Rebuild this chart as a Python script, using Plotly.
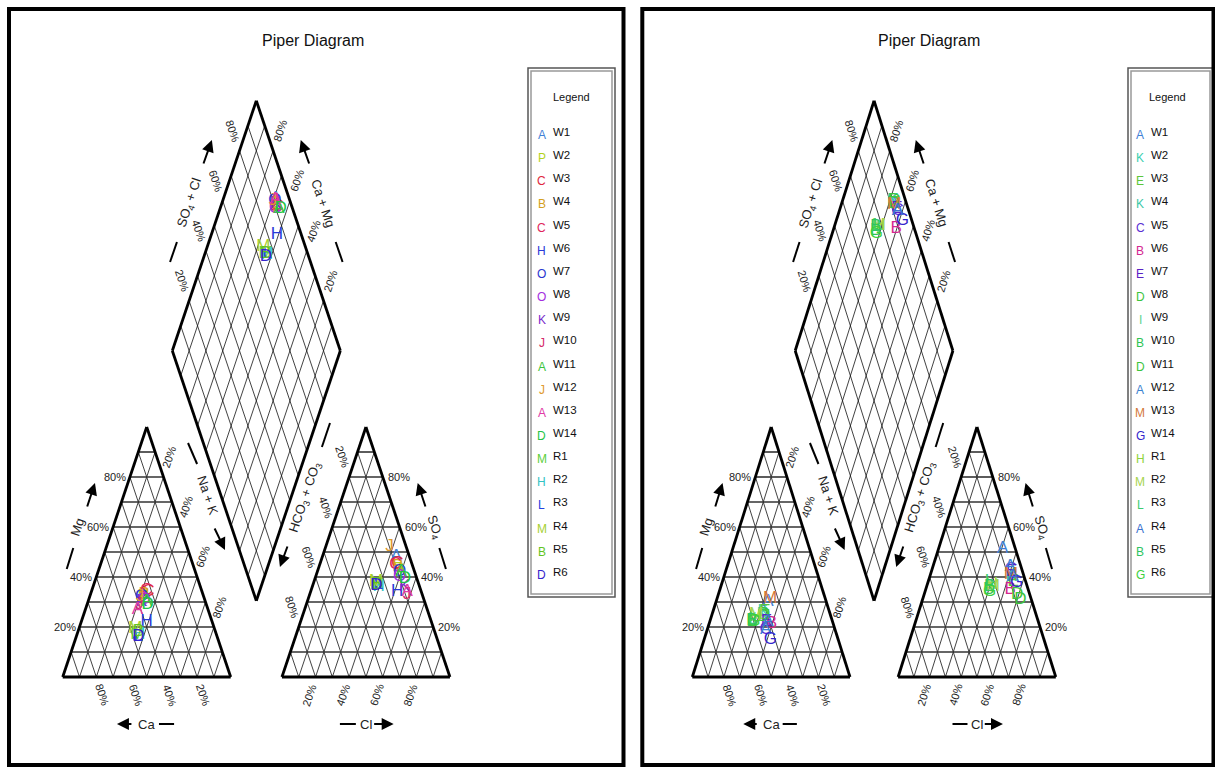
import math
import plotly.graph_objects as go

# ---------------- data (percent of meq/L) ----------------
sample_names = ["W1", "W2", "W3", "W4", "W5", "W6", "W7", "W8", "W9", "W10",
                "W11", "W12", "W13", "W14", "R1", "R2", "R3", "R4", "R5", "R6"]

left_symbols = ["A", "P", "C", "B", "C", "H", "O", "O", "K", "J",
                "A", "J", "A", "D", "M", "H", "L", "M", "B", "D"]
left_colors = ["#3f7fd6", "#b5d21e", "#e0283c", "#d4a020", "#e0265a", "#2a3ad8", "#2a36d0",
               "#a42ee0", "#7a2ccc", "#d42a6a", "#3cc43c", "#e09a30", "#e03aa6", "#22c444",
               "#5ccf3a", "#33c4c4", "#2440e0", "#a6d030", "#62c41e", "#3424cc"]
left_ca = [36, 36, 32, 35, 33, 39, 37, 36, 38, 40, 35, 38, 42, 35, 47, 46, 47, 47, 46, 47]
left_mg = [33, 32, 34, 33, 34.5, 22, 32, 31, 30, 29, 30, 32, 27, 29, 17, 17, 16, 19.5, 18, 16]
left_nak = [31, 32, 34, 32, 32.5, 39, 31, 33, 32, 31, 35, 30, 31, 36, 36, 37, 37, 33.5, 36, 37]
left_hco3 = [8, 9, 8.5, 9, 10, 14.5, 9, 10, 9, 9, 8, 10, 8.5, 7, 25, 24.5, 24, 25, 25, 25.5]
left_so4 = [48, 43, 45.5, 44, 45, 34, 42, 40, 36, 33, 42, 52, 34, 39.5, 37, 36, 37, 38, 37, 36.5]
left_cl = [44, 48, 46, 47, 45, 51.5, 49, 50, 55, 58, 50, 38, 57.5, 53.5, 38, 39.5, 39, 37, 38, 38]

right_symbols = ["A", "K", "E", "K", "C", "B", "E", "D", "I", "B",
                 "D", "A", "M", "G", "H", "M", "L", "A", "B", "G"]
right_colors = ["#3f7fd6", "#3ccfb0", "#5cc63a", "#3cc8a6", "#5a30d4", "#d42890", "#5a22c4",
                "#3cc43c", "#62d48e", "#2ec452", "#3cc43c", "#3a82d0", "#d4783a", "#3424cc",
                "#8ed43c", "#a6d44e", "#3ccc6e", "#3a72d0", "#2ec462", "#3cd03c"]
right_ca = [37, 42, 41, 43, 44, 39, 42, 43, 49, 51, 42, 44, 35, 43, 48, 47, 50, 41, 51, 50]
right_mg = [30, 26, 26, 25, 19, 21.5, 22, 24, 23, 22, 25, 19, 31.5, 15, 24, 25, 23, 22, 22.5, 22]
right_nak = [33, 32, 33, 32, 37, 39.5, 36, 33, 28, 27, 33, 37, 33.5, 42, 28, 28, 27, 37, 26.5, 28]
right_hco3 = [8, 8, 8, 8, 7, 11.5, 7, 7, 23, 25, 8, 7, 8, 6, 22, 22, 23, 7, 24, 25]
right_so4 = [51.5, 40, 38, 41, 43, 35, 42, 31, 36, 35, 33, 44, 41, 37.7, 37, 36, 38, 40, 36, 34]
right_cl = [40.5, 52, 54, 51, 50, 53.5, 51, 62, 41, 40, 59, 49, 51, 56.3, 41, 42, 39, 53, 40, 41]

tick_values = [20, 40, 60, 80]
title_text = "Piper Diagram"
legend_title = "Legend"

# ---------------- layout geometry (pixels) ----------------
W, HGT = 1215, 767
BASE_Y = 677.0
TRI_H = 250.0
GAP = 0.305
FONT = "Liberation Sans, Arial, sans-serif"

panels = [
    dict(x0=62.7, s=168.0, border=(9, 9, 623.5, 765), title_x=313,
         legend_box=(528, 68, 615, 597), leg_letter=541.5, leg_label=551, leg_title=571.5,
         symbols=left_symbols, colors=left_colors, ca=left_ca, mg=left_mg, nak=left_nak,
         hco3=left_hco3, so4=left_so4, cl=left_cl),
    dict(x0=692.3, s=157.7, border=(642.3, 9, 1213.5, 765), title_x=929,
         legend_box=(1128, 68, 1213, 597), leg_letter=1140, leg_label=1149, leg_title=1167,
         symbols=right_symbols, colors=right_colors, ca=right_ca, mg=right_mg, nak=right_nak,
         hco3=right_hco3, so4=right_so4, cl=right_cl),
]

fig = go.Figure()
annotations = []
shapes = []


def to_px(p, X, Y):
    return p["x0"] + p["s"] * X, BASE_Y - TRI_H * Y


def cat_xy(na, mg):
    return na + 0.5 * mg, mg


def an_xy(cl, so4):
    return 1 + GAP + cl + 0.5 * so4, so4


def dia_xy(c, a):
    return 1 + GAP / 2 - 0.5 * (1 - c) + 0.5 * a, GAP + (1 - c) + a


def add_lines(p, segs, width, color):
    xs, ys = [], []
    for (X1, Y1), (X2, Y2) in segs:
        a = to_px(p, X1, Y1)
        b = to_px(p, X2, Y2)
        xs += [a[0], b[0], None]
        ys += [a[1], b[1], None]
    fig.add_trace(go.Scatter(x=xs, y=ys, mode="lines", line=dict(color=color, width=width),
                             hoverinfo="skip", showlegend=False))


def ann(p, X, Y, text, size=11, angle=0, xanchor="center", xshift=0, color="#222"):
    x, y = to_px(p, X, Y)
    annotations.append(dict(x=x, y=y, xref="x", yref="y", text=text, showarrow=False,
                            textangle=angle, xanchor=xanchor, yanchor="middle", xshift=xshift,
                            font=dict(family=FONT, size=size, color=color)))


def arrow(p, tail, head):
    hx, hy = to_px(p, *head)
    tx, ty = to_px(p, *tail)
    annotations.append(dict(x=hx, y=hy, ax=tx, ay=ty, xref="x", yref="y", axref="x", ayref="y",
                            text="", showarrow=True, arrowhead=2, arrowsize=1.2, arrowwidth=2,
                            arrowcolor="black"))


def dash(p, a, b):
    x1, y1 = to_px(p, *a)
    x2, y2 = to_px(p, *b)
    shapes.append(dict(type="line", x0=x1, y0=y1, x1=x2, y1=y2, xref="x", yref="y",
                       line=dict(color="black", width=2)))


for p in panels:
    ang = math.degrees(math.atan2(TRI_H, 0.5 * p["s"]))
    ks = [i / 10 for i in range(1, 10)]
    ox = 1 + GAP

    # ---- grids ----
    horiz, diag = [], []
    for k in ks:
        horiz.append(((0.5 * k, k), (1 - 0.5 * k, k)))
        diag.append(((1 - k, 0), (0.5 * (1 - k), 1 - k)))
        diag.append(((k, 0), (k + 0.5 * (1 - k), 1 - k)))
        horiz.append(((ox + 0.5 * k, k), (ox + 1 - 0.5 * k, k)))
        diag.append(((ox + k, 0), (ox + k + 0.5 * (1 - k), 1 - k)))
        diag.append(((ox + 1 - k, 0), (ox + 0.5 * (1 - k), 1 - k)))
        diag.append((dia_xy(0, k), dia_xy(1, k)))
        diag.append((dia_xy(k, 0), dia_xy(k, 1)))
    add_lines(p, diag, 0.8, "#111")
    add_lines(p, horiz, 1.6, "#333")

    outline = [
        ((0, 0), (1, 0)), ((1, 0), (0.5, 1)), ((0.5, 1), (0, 0)),
        ((ox, 0), (ox + 1, 0)), ((ox + 1, 0), (ox + 0.5, 1)), ((ox + 0.5, 1), (ox, 0)),
        (dia_xy(1, 0), dia_xy(0, 0)), (dia_xy(0, 0), dia_xy(0, 1)),
        (dia_xy(0, 1), dia_xy(1, 1)), (dia_xy(1, 1), dia_xy(1, 0)),
    ]
    add_lines(p, outline, 2.8, "black")

    # ---- tick labels ----
    for v in tick_values:
        k = v / 100
        t = f"{v}%"
        ann(p, 0.5 * k, k, t, xanchor="right", xshift=-2)                      # Mg
        ann(p, 0.5 + 0.5 * k + 0.033, 1 - k + 0.08, t, angle=-ang)              # Na+K
        ann(p, 1 - k + 0.036, -0.072, t, angle=ang)                             # Ca
        ann(p, ox + 0.5 * (1 - k) - 0.04, 1 - k + 0.08, t, angle=ang)           # HCO3
        ann(p, ox + 1 - 0.5 * k, k, t, xanchor="left", xshift=3)                # SO4
        ann(p, ox + k - 0.036, -0.072, t, angle=-ang)                           # Cl
        dx, dy = dia_xy(0, k)
        ann(p, dx - 0.04, dy + 0.08, t, angle=ang)                              # SO4+Cl
        dx, dy = dia_xy(1 - k, 1)
        ann(p, dx + 0.04, dy + 0.08, t, angle=-ang)                             # Ca+Mg

    # ---- axis titles with arrows ----
    ann(p, 0.5, -0.188, "Ca", size=13)
    arrow(p, (0.418, -0.188), (0.323, -0.188))
    dash(p, (0.573, -0.188), (0.663, -0.188))

    ann(p, 0.085, 0.6, "Mg", size=13, angle=-ang)
    arrow(p, (0.143, 0.676), (0.192, 0.776))
    dash(p, (0.024, 0.432), (0.063, 0.516))

    ann(p, 0.865, 0.728, "Na + K", size=13, angle=ang)
    dash(p, (0.746, 0.936), (0.8, 0.852))
    arrow(p, (0.9, 0.6), (0.966, 0.508))

    ann(p, ox + 0.5, -0.188, "Cl", size=13)
    dash(p, (ox + 0.345, -0.188), (ox + 0.44, -0.188))
    arrow(p, (ox + 0.54, -0.188), (ox + 0.665, -0.188))

    ann(p, ox + 0.91, 0.6, "SO<sub>4</sub>", size=13, angle=ang)
    arrow(p, (ox + 0.857, 0.676), (ox + 0.808, 0.776))
    dash(p, (ox + 0.976, 0.432), (ox + 0.937, 0.516))

    ann(p, ox + 0.137, 0.72, "HCO<sub>3</sub> + CO<sub>3</sub>", size=13, angle=-ang)
    dash(p, (ox + 0.238, 0.92), (ox + 0.286, 1.016))
    arrow(p, (ox + 0.036, 0.528), (ox - 0.012, 0.44))

    cx = 1 + GAP / 2
    ann(p, cx - 0.40, 1.896, "SO<sub>4</sub> + Cl", size=13, angle=-ang)
    arrow(p, (cx - 0.3175, 2.048), (cx - 0.2645, 2.148))
    dash(p, (cx - 0.5135, 1.66), (cx - 0.4725, 1.74))

    ann(p, cx + 0.40, 1.896, "Ca + Mg", size=13, angle=ang)
    arrow(p, (cx + 0.3175, 2.048), (cx + 0.2645, 2.148))
    dash(p, (cx + 0.5135, 1.66), (cx + 0.4725, 1.74))

    # ---- sample letters ----
    n = len(sample_names)
    for i in range(n):
        pts = [cat_xy(p["nak"][i] / 100, p["mg"][i] / 100),
               an_xy(p["cl"][i] / 100, p["so4"][i] / 100),
               dia_xy(p["nak"][i] / 100, (p["so4"][i] + p["cl"][i]) / 100)]
        xs, ys = zip(*[to_px(p, X, Y) for X, Y in pts])
        fig.add_trace(go.Scatter(x=list(xs), y=list(ys), mode="text",
                                 text=[p["symbols"][i]] * 3, textposition="middle center",
                                 textfont=dict(family=FONT, size=17, color=p["colors"][i]),
                                 name=sample_names[i], showlegend=False, hoverinfo="name"))

    # ---- title ----
    annotations.append(dict(x=p["title_x"], y=40, xref="x", yref="y", text=title_text,
                            showarrow=False, font=dict(family=FONT, size=16, color="#111")))

    # ---- legend ----
    lx0, ly0, lx1, ly1 = p["legend_box"]
    shapes.append(dict(type="rect", x0=lx0, y0=ly0, x1=lx1, y1=ly1, xref="x", yref="y",
                       line=dict(color="#555", width=1.5)))
    shapes.append(dict(type="rect", x0=lx0 + 3, y0=ly0 + 3, x1=lx1 - 3, y1=ly1 - 3,
                       xref="x", yref="y", line=dict(color="#999", width=1.5)))
    annotations.append(dict(x=p["leg_title"], y=97, xref="x", yref="y", text=legend_title,
                            showarrow=False, font=dict(family=FONT, size=11, color="#111")))
    for i in range(n):
        yy = 132 + i * 23.15
        annotations.append(dict(x=p["leg_letter"], y=yy + 3, xref="x", yref="y",
                                text=p["symbols"][i], showarrow=False,
                                font=dict(family=FONT, size=12, color=p["colors"][i])))
        annotations.append(dict(x=p["leg_label"], y=yy, xref="x", yref="y", xanchor="left",
                                text=sample_names[i], showarrow=False,
                                font=dict(family=FONT, size=11.5, color="#111")))

    # ---- panel border ----
    bx0, by0, bx1, by1 = p["border"]
    shapes.append(dict(type="rect", x0=bx0, y0=by0, x1=bx1, y1=by1, xref="x", yref="y",
                       line=dict(color="black", width=4)))

fig.update_layout(
    width=W, height=HGT, margin=dict(l=0, r=0, t=0, b=0),
    paper_bgcolor="white", plot_bgcolor="white",
    xaxis=dict(range=[0, W], visible=False, fixedrange=True),
    yaxis=dict(range=[HGT, 0], visible=False, fixedrange=True),
    annotations=annotations, shapes=shapes, showlegend=False,
)

fig.write_html("out.html", config={"displayModeBar": False},
               post_script="document.body.style.margin='0px';document.body.style.overflow='hidden';")
